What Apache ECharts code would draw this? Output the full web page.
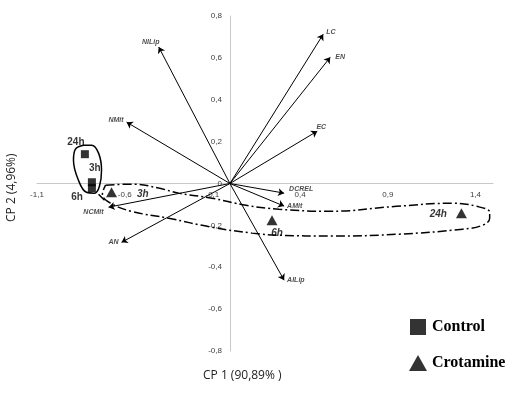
<!DOCTYPE html>
<html>
<head>
<meta charset="utf-8">
<script src="https://cdn.jsdelivr.net/npm/echarts@6/dist/echarts.min.js"></script>
<style>
  html, body { margin: 0; padding: 0; background: #fff; }
  #chart { width: 531px; height: 403px; }
</style>
</head>
<body>
<div id="chart"></div>
<script>
// variable loadings (arrows from origin)
const varNames = ['NILip', 'LC', 'EN', 'EC', 'NMit', 'DCREL', 'AMit', 'NCMit', 'AN', 'AILip'];
const varX = [-0.406, 0.532, 0.572, 0.498, -0.589, 0.309, 0.309, -0.692, -0.618, 0.309];
const varY = [0.652, 0.713, 0.603, 0.250, 0.293, -0.046, -0.108, -0.113, -0.281, -0.462];

// sample scores
const controlTimes = ['24h', '3h', '6h'];
const controlX = [-0.827, -0.787, -0.787];
const controlY = [0.140, 0.006, -0.022];
const crotTimes = ['3h', '6h', '24h'];
const crotX = [-0.675, 0.240, 1.320];
const crotY = [-0.042, -0.175, -0.142];

// axis tick labels
const xTicks = [-1.1, -0.6, -0.1, 0.4, 0.9, 1.4];
const yTicks = [-0.8, -0.6, -0.4, -0.2, 0, 0.2, 0.4, 0.6, 0.8];

// hand-drawn group outlines
const controlLoopX = [-0.835, -0.789, -0.749, -0.732, -0.744, -0.772, -0.818, -0.864, -0.892, -0.881, -0.835];
const controlLoopY = [0.183, 0.183, 0.145, 0.064, -0.013, -0.046, -0.042, 0.016, 0.111, 0.164, 0.183];
const controlTailX = [-0.749, -0.715];
const controlTailY = [-0.051, -0.080];
const crotLoopX = [-0.709, -0.549, -0.406, -0.292, -0.103, 0.092, 0.280, 0.567, 0.950, 1.270, 1.407, 1.481,
  1.481, 1.442, 1.327, 0.967, 0.584, 0.280, 0.126, -0.103, -0.349, -0.561, -0.681, -0.727, -0.709];
const crotLoopY = [-0.008, -0.003, -0.022, -0.046, -0.070, -0.104, -0.123, -0.133, -0.109, -0.094, -0.109, -0.137,
  -0.166, -0.199, -0.218, -0.242, -0.251, -0.247, -0.237, -0.209, -0.166, -0.133, -0.094, -0.051, -0.008];

// label placement
const varLabelPos = {
  NILip: ['top', [-8, 2]], LC: ['right', [0, -2]], EN: ['right', [2, 0]], EC: ['top', [4, 2]],
  NMit: ['left', [0, -2]], DCREL: ['right', [2, -4]], AMit: ['right', [0, 0]], NCMit: ['left', [-2, 5]],
  AN: ['left', [0, 0]], AILip: ['right', [0, 0]]
};
const controlLabelPos = { '24h': ['top', [-9, 2]], '3h': ['top', [3, 0]], '6h': ['left', [0, 9]] };
const crotLabelPos = { '3h': ['right', [15, 2]], '6h': ['bottom', [5, -2]], '24h': ['left', [-4, 1]] };

const comma = v => v.toFixed(1).replace('.', ',');
const zip = (xs, ys) => xs.map((x, i) => [x, ys[i]]);

// grid box and axis ranges
const W = 531, H = 403;
const grid = { left: 37, right: 38, top: 16, bottom: 52 };
const xMin = -1.1, xMax = 1.5, yMin = -0.8, yMax = 0.8;
// axes cross at the origin: shift them inward from the grid edges
const xAxisShift = (0 - yMin) / (yMax - yMin) * (H - grid.top - grid.bottom);
const yAxisShift = (0 - xMin) / (xMax - xMin) * (W - grid.left - grid.right);

const chart = echarts.init(document.getElementById('chart'));

const loopLine = (xs, ys, dashed) => ({
  type: 'line',
  data: zip(xs, ys),
  smooth: 0.4,
  symbol: 'none',
  silent: true,
  z: 2,
  lineStyle: { color: '#000', width: 1.5, type: dashed ? [9, 3, 2, 3] : 'solid' }
});

const axisText = { margin: 7, fontSize: 8, fontFamily: 'Liberation Sans', color: '#404040' };

const option = {
  animation: false,
  grid: grid,
  xAxis: {
    type: 'value',
    min: xMin,
    max: xMax,
    interval: 0.1,
    offset: -xAxisShift,
    splitLine: { show: false },
    axisTick: { show: false },
    axisLine: { onZero: false, lineStyle: { color: '#c8c8c8', width: 1 } },
    axisLabel: Object.assign({}, axisText, {
      showMaxLabel: true,
      formatter: v => xTicks.some(t => Math.abs(t - v) < 1e-6) ? comma(v) : ''
    })
  },
  yAxis: {
    type: 'value',
    min: yMin,
    max: yMax,
    interval: 0.2,
    offset: -yAxisShift,
    splitLine: { show: false },
    axisTick: { show: false },
    axisLine: { onZero: false, lineStyle: { color: '#c8c8c8', width: 1 } },
    axisLabel: Object.assign({}, axisText, {
      margin: 8,
      formatter: v => yTicks.some(t => Math.abs(t - v) < 1e-6) ? (Math.abs(v) < 1e-6 ? '0' : comma(v)) : ''
    })
  },
  legend: {
    orient: 'vertical',
    left: 404,
    top: 314,
    itemWidth: 18,
    itemHeight: 16,
    itemGap: 20,
    data: [
      { name: 'Control', icon: 'path://M0,0H10V10H0Z' },
      { name: 'Crotamine', icon: 'triangle' }
    ],
    textStyle: { fontFamily: 'Liberation Serif', fontWeight: 'bold', fontSize: 16, color: '#000' }
  },
  graphic: [
    {
      type: 'text', left: 203, top: 370,
      style: { text: 'CP 1 (90,89% )', font: '12px "Open Sans"', fill: '#222' }
    },
    {
      type: 'text', x: 6, y: 222, rotation: Math.PI / 2,
      style: { text: 'CP 2 (4,96%)', font: '12px "Open Sans"', fill: '#222' }
    }
  ],
  series: [
    loopLine(controlLoopX, controlLoopY, false),
    loopLine(controlTailX, controlTailY, false),
    loopLine(crotLoopX, crotLoopY, true),
    {
      type: 'lines',
      coordinateSystem: 'cartesian2d',
      polyline: false,
      silent: true,
      z: 3,
      symbol: ['none', 'arrow'],
      symbolSize: 6,
      lineStyle: { color: '#000', width: 1, opacity: 1 },
      data: varNames.map((n, i) => ({ coords: [[0, 0], [varX[i], varY[i]]] }))
    },
    {
      type: 'scatter',
      silent: true,
      z: 4,
      symbolSize: 0,
      data: varNames.map((n, i) => ({
        name: n,
        value: [varX[i], varY[i]],
        label: { position: varLabelPos[n][0], offset: varLabelPos[n][1] }
      })),
      label: {
        show: true,
        formatter: p => p.name,
        distance: 3,
        fontSize: 7,
        fontStyle: 'italic',
        fontWeight: 'bold',
        fontFamily: 'Liberation Sans',
        color: '#222'
      }
    },
    {
      name: 'Control',
      type: 'scatter',
      symbol: 'rect',
      symbolSize: 8,
      z: 5,
      itemStyle: { color: '#000' },
      data: controlTimes.map((t, i) => ({
        name: t,
        value: [controlX[i], controlY[i]],
        label: { position: controlLabelPos[t][0], offset: controlLabelPos[t][1] }
      })),
      label: {
        show: true,
        formatter: p => p.name,
        fontSize: 10,
        fontWeight: 'bold',
        fontFamily: 'Liberation Sans',
        color: '#000'
      }
    },
    {
      name: 'Crotamine',
      type: 'scatter',
      symbol: 'triangle',
      symbolSize: [11, 10],
      z: 5,
      itemStyle: { color: '#000' },
      data: crotTimes.map((t, i) => ({
        name: t,
        value: [crotX[i], crotY[i]],
        label: { position: crotLabelPos[t][0], offset: crotLabelPos[t][1] }
      })),
      label: {
        show: true,
        formatter: p => p.name,
        fontSize: 10,
        fontStyle: 'italic',
        fontWeight: 'bold',
        fontFamily: 'Liberation Sans',
        color: '#000'
      }
    }
  ]
};

chart.setOption(option);
window.addEventListener('resize', chart.resize);
</script>
</body>
</html>
